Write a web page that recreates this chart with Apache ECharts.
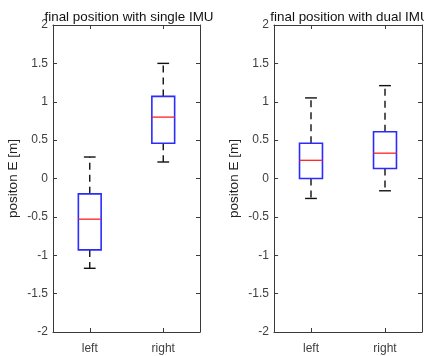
<!DOCTYPE html>
<html>
<head>
<meta charset="utf-8">
<script src="https://cdn.jsdelivr.net/npm/echarts@6/dist/echarts.min.js"></script>
<style>
  html, body { margin: 0; padding: 0; background: #fff; }
  #chart { width: 424px; height: 356px; }
</style>
</head>
<body>
<div id="chart"></div>
<script>
// categories and box stats: [min, q1, median, q3, max]
const categories = ['left', 'right']
const singleStats = [
  [-1.17, -0.93, -0.53, -0.20, 0.28],
  [0.215, 0.46, 0.80, 1.07, 1.50]
]
const dualStats = [
  [-0.26, 0.00, 0.237, 0.46, 1.05],
  [-0.16, 0.13, 0.33, 0.61, 1.21]
]
const yTicks = [-2, -1.5, -1, -0.5, 0, 0.5, 1, 1.5, 2]
const titles = ['final position with single IMU', 'final position with dual IMU']
const yName = 'positon E [m]'

const axisColor = '#3a3a3a'
const labelColor = '#404040'
const font = 'Liberation Sans, Arial, sans-serif'

const chart = echarts.init(document.getElementById('chart'))

function renderBox(params, api) {
  const x = api.value(0)
  const band = api.size([1, 0])[0]
  const half = band * 0.155
  const cap = band * 0.08
  const pMin = api.coord([x, api.value(1)])
  const pQ1 = api.coord([x, api.value(2)])
  const pMed = api.coord([x, api.value(3)])
  const pQ3 = api.coord([x, api.value(4)])
  const pMax = api.coord([x, api.value(5)])
  const cx = pMed[0]
  const dash = { stroke: '#111', lineWidth: 1.4, lineDash: [7, 5] }
  const solid = { stroke: '#111', lineWidth: 1.4 }
  return {
    type: 'group',
    children: [
      { type: 'line', shape: { x1: cx, y1: pQ3[1], x2: cx, y2: pMax[1] }, style: dash },
      { type: 'line', shape: { x1: cx, y1: pQ1[1], x2: cx, y2: pMin[1] }, style: dash },
      { type: 'line', shape: { x1: cx - cap, y1: pMax[1], x2: cx + cap, y2: pMax[1] }, style: solid },
      { type: 'line', shape: { x1: cx - cap, y1: pMin[1], x2: cx + cap, y2: pMin[1] }, style: solid },
      {
        type: 'rect',
        shape: { x: cx - half, y: pQ3[1], width: half * 2, height: pQ1[1] - pQ3[1] },
        style: { fill: '#fff', stroke: '#2b2bff', lineWidth: 1.6 }
      },
      { type: 'line', shape: { x1: cx - half, y1: pMed[1], x2: cx + half, y2: pMed[1] }, style: { stroke: '#ff2020', lineWidth: 1.3 } }
    ]
  }
}

function xAxes(gridIndex) {
  const base = {
    type: 'category',
    data: categories,
    gridIndex: gridIndex,
    boundaryGap: true,
    axisLine: { show: true, onZero: false, lineStyle: { color: axisColor, width: 1 } },
    axisTick: { show: true, inside: true, alignWithLabel: true, length: 4, lineStyle: { color: axisColor } },
    splitLine: { show: false }
  }
  return [
    Object.assign({}, base, {
      position: 'bottom',
      axisLabel: { color: labelColor, fontSize: 12, fontFamily: font, margin: 11 }
    }),
    Object.assign({}, base, { position: 'top', axisLabel: { show: false } })
  ]
}

function yAxes(gridIndex) {
  const base = {
    type: 'value',
    gridIndex: gridIndex,
    min: -2,
    max: 2,
    interval: 0.5,
    axisLine: { show: true, onZero: false, lineStyle: { color: axisColor, width: 1 } },
    axisTick: { show: true, inside: true, length: 4, lineStyle: { color: axisColor } },
    splitLine: { show: false }
  }
  return [
    Object.assign({}, base, {
      position: 'left',
      name: yName,
      nameLocation: 'middle',
      nameGap: 33,
      nameTextStyle: { color: '#222', fontSize: 13.5, fontFamily: font },
      axisLabel: {
        color: labelColor, fontSize: 12, fontFamily: font, margin: 5,
        formatter: v => yTicks.includes(v) ? String(v) : ''
      }
    }),
    Object.assign({}, base, { position: 'right', axisLabel: { show: false } })
  ]
}

const titleStyle = { fontSize: 13.4, fontWeight: 'normal', color: '#111', fontFamily: font }

chart.setOption({
  animation: false,
  title: [
    { text: titles[0], left: 124, top: 6, textAlign: 'center', textStyle: titleStyle },
    { text: titles[1], left: 345, top: 6, textAlign: 'center', textStyle: titleStyle }
  ],
  grid: [
    { left: 53, right: 224, top: 25, bottom: 24 },
    { left: 274, right: 2, top: 25, bottom: 24 }
  ],
  xAxis: [...xAxes(0), ...xAxes(1)],
  yAxis: [...yAxes(0), ...yAxes(1)],
  series: [
    {
      type: 'custom',
      xAxisIndex: 0,
      yAxisIndex: 0,
      renderItem: renderBox,
      encode: { x: 0, y: [1, 2, 3, 4, 5] },
      data: singleStats.map((s, i) => [i, ...s])
    },
    {
      type: 'custom',
      xAxisIndex: 2,
      yAxisIndex: 2,
      renderItem: renderBox,
      encode: { x: 0, y: [1, 2, 3, 4, 5] },
      data: dualStats.map((s, i) => [i, ...s])
    }
  ]
})
</script>
</body>
</html>
